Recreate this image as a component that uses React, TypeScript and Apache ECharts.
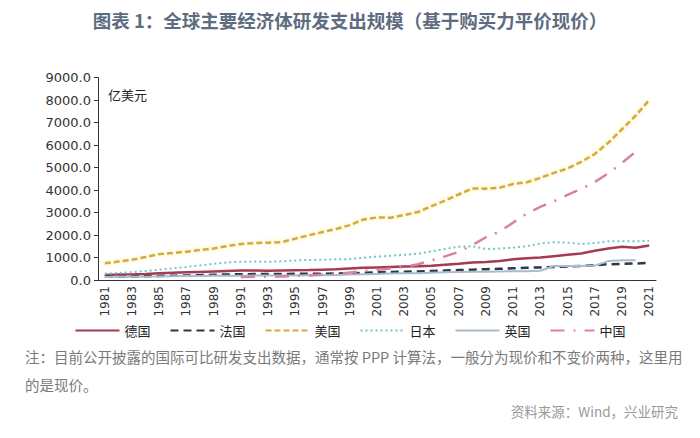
import React, { useEffect, useRef } from "react";
import * as echarts from "echarts";

const years: string[] = [];
for (let y = 1981; y <= 2021; y++) years.push(String(y));

const germany = [220, 240, 250, 270, 300, 320, 340, 360, 380, 400, 420, 420, 410, 420, 430, 440, 460, 480, 510, 540, 560, 580, 600, 610, 630, 680, 720, 780, 800, 840, 920, 970, 1000, 1060, 1120, 1180, 1300, 1400, 1480, 1430, 1530];
const france = [140, 150, 160, 170, 180, 190, 200, 215, 230, 245, 255, 265, 270, 270, 275, 280, 280, 290, 300, 320, 340, 360, 370, 380, 400, 420, 440, 460, 480, 500, 520, 540, 560, 580, 600, 620, 660, 700, 720, 730, 760];
const usa = [740, 820, 900, 1020, 1150, 1200, 1260, 1330, 1400, 1510, 1600, 1640, 1660, 1680, 1840, 1990, 2130, 2270, 2440, 2690, 2780, 2770, 2890, 3020, 3280, 3530, 3800, 4070, 4060, 4100, 4270, 4340, 4540, 4760, 4960, 5250, 5600, 6100, 6700, 7300, 8000];
const japan = [280, 310, 350, 400, 460, 520, 580, 650, 720, 780, 810, 820, 810, 830, 870, 890, 900, 920, 930, 990, 1040, 1080, 1120, 1170, 1270, 1380, 1480, 1500, 1380, 1400, 1440, 1500, 1620, 1680, 1660, 1600, 1640, 1720, 1720, 1720, 1740];
const uk: (number | null)[] = [130, 140, 140, 150, 160, 170, 175, 180, 185, 190, 190, 195, 200, 205, 205, 210, 215, 225, 240, 255, 270, 285, 295, 300, 320, 340, 360, 370, 370, 380, 390, 390, 410, 620, 620, 620, 640, 840, 880, 880, null];
const china: (number | null)[] = [null, null, null, null, null, null, null, null, null, null, 130, 145, 150, 160, 180, 200, 240, 270, 330, 400, 450, 510, 580, 700, 870, 1050, 1250, 1550, 1900, 2150, 2550, 2950, 3250, 3500, 3780, 4050, 4350, 4750, 5200, 5700, null];

const yTicks = [0, 1000, 2000, 3000, 4000, 5000, 6000, 7000, 8000, 9000];

const title = "图表 1：全球主要经济体研发支出规模（基于购买力平价现价）";
const unit = "亿美元";
const note1 = "注：目前公开披露的国际可比研发支出数据，通常按 PPP 计算法，一般分为现价和不变价两种，这里用";
const note2 = "的是现价。";
const source = "资料来源：Wind，兴业研究";

const CJK = '"Noto Sans CJK SC", "Noto Sans", sans-serif';

export default function App() {
  const ref = useRef<HTMLDivElement>(null);
  useEffect(() => {
    if (!ref.current) return;
    const chart = echarts.init(ref.current, undefined, { renderer: "svg" });
    const mk = (name: string, data: (number | null)[], color: string, type: any, width: number, extra: any = {}) => ({
      name,
      type: "line",
      data,
      symbol: "none",
      showSymbol: false,
      connectNulls: false,
      lineStyle: { color, type, width, ...extra },
      itemStyle: { color },
      z: 2,
    });
    const names = ["德国", "法国", "美国", "日本", "英国", "中国"];
    chart.setOption({
      animation: false,
      backgroundColor: "#ffffff",
      title: {
        text: title,
        left: "center",
        top: 6,
        textStyle: { fontFamily: CJK, fontSize: 18.5, fontWeight: "bold", color: "#5d6c80" },
      },
      grid: { left: 98, right: 44, top: 77.5, bottom: 158, containLabel: false },
      legend: {
        top: 319,
        left: "center",
        itemWidth: 44,
        itemHeight: 10,
        itemGap: 19,
        itemStyle: { opacity: 0 },
        textStyle: { fontFamily: CJK, fontSize: 13, color: "#222" },
        data: names.map((n) => ({ name: n, itemStyle: { opacity: 0 } })),
      },
      xAxis: {
        type: "category",
        data: years,
        boundaryGap: true,
        axisLine: { lineStyle: { color: "#333", width: 1 } },
        axisTick: { interval: 1, length: 5, lineStyle: { color: "#333" } },
        axisLabel: {
          interval: 1,
          rotate: 90,
          margin: 6,
          fontSize: 12,
          color: "#333",
          fontFamily: "DejaVu Sans",
        },
      },
      yAxis: {
        type: "value",
        min: 0,
        max: 9000,
        interval: 1000,
        splitLine: { show: false },
        axisLine: { show: true, lineStyle: { color: "#333", width: 1 } },
        axisTick: { show: true, length: 4, lineStyle: { color: "#333" } },
        axisLabel: {
          formatter: (v: number) => (yTicks.includes(v) ? v.toFixed(1) : ""),
          fontSize: 13,
          color: "#333",
          fontFamily: "DejaVu Sans",
          margin: 7,
        },
      },
      graphic: [
        { type: "text", left: 108, top: 88, style: { text: unit, fontFamily: CJK, fontSize: 13, fill: "#222" } },
        { type: "text", left: 25, top: 349, style: { text: note1, fontFamily: CJK, fontSize: 14.5, fill: "#7a7a7a" } },
        { type: "text", left: 25, top: 377, style: { text: note2, fontFamily: CJK, fontSize: 14.5, fill: "#7a7a7a" } },
        { type: "text", right: 22, top: 404, style: { text: source, fontFamily: CJK, fontSize: 13.5, fill: "#9a9a9a" } },
      ],
      series: [
        mk("德国", germany, "#a63a50", "solid", 2.5),
        mk("法国", france, "#2e3746", [8, 5], 2.5),
        mk("美国", usa, "#d4aa3c", [6, 3], 2.5, { shadowColor: "rgba(250,225,120,0.8)", shadowBlur: 4 }),
        mk("日本", japan, "#72c6c8", [2, 3], 2),
        mk("英国", uk, "#a8bccd", "solid", 2),
        mk("中国", china, "#d9829e", [14, 9, 2, 9], 2.5),
      ],
    });
    return () => chart.dispose();
  }, []);
  return <div ref={ref} style={{ width: 700, height: 438, margin: -8 }} />;
}
